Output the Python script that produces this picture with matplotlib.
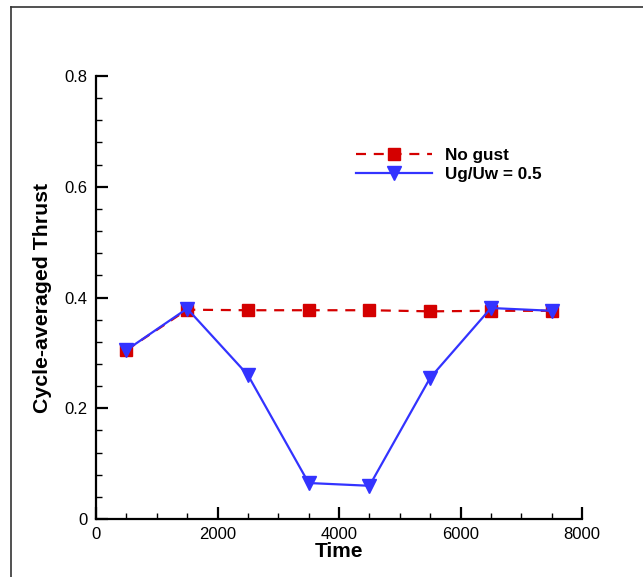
import matplotlib.pyplot as plt
import numpy as np
from matplotlib.lines import Line2D
from matplotlib.ticker import MultipleLocator, FuncFormatter

plt.rcParams['font.family'] = ['Liberation Sans', 'DejaVu Sans']

# cycle-averaged thrust sampled every 1000 time units
time = [500, 1500, 2500, 3500, 4500, 5500, 6500, 7500]
thrust_no_gust = [0.305, 0.378, 0.377, 0.377, 0.377, 0.375, 0.376, 0.376]
thrust_gust = [0.305, 0.380, 0.260, 0.065, 0.060, 0.255, 0.381, 0.376]

fig = plt.figure(figsize=(6.43, 5.77), dpi=100)
ax = fig.add_axes([0.1493, 0.1005, 0.756, 0.7678])

ax.plot(time, thrust_no_gust, color='#d40000', ls=(0, (4.5, 3.5)), lw=1.6,
        marker='s', ms=9, mec='#d40000', label='No gust', clip_on=False)
ax.plot(time, thrust_gust, color='#3333ff', ls='-', lw=1.6,
        marker='v', ms=10, mec='#3333ff', label='Ug/Uw = 0.5', clip_on=False)

ax.set_xlim(0, 8000)
ax.set_ylim(0, 0.8)
ax.xaxis.set_major_locator(MultipleLocator(2000))
ax.xaxis.set_minor_locator(MultipleLocator(500))
ax.yaxis.set_major_locator(MultipleLocator(0.2))
ax.yaxis.set_minor_locator(MultipleLocator(0.04))
ax.yaxis.set_major_formatter(FuncFormatter(lambda v, p: '%g' % round(v, 2)))

for s in ['top', 'right']:
    ax.spines[s].set_visible(False)
for s in ['left', 'bottom']:
    ax.spines[s].set_linewidth(1.6)

ax.tick_params(which='major', direction='in', length=8.5, width=1.6, labelsize=12, pad=6)
ax.tick_params(which='minor', direction='in', length=4.6, width=1.0)

ax.set_xlabel('Time', fontsize=15, fontweight='bold', labelpad=0)
ax.set_ylabel('Cycle-averaged Thrust', fontsize=15.3, fontweight='bold', labelpad=9)

leg = ax.legend(loc='upper left', bbox_to_anchor=(347 / 643, 1 - 139 / 577),
                bbox_transform=fig.transFigure, frameon=False, fontsize=12.3,
                handlelength=4.5, handletextpad=0.75, labelspacing=0.27,
                borderpad=0, numpoints=1)
for t in leg.get_texts():
    t.set_fontweight('bold')

# page frame lines
fig.add_artist(Line2D([10.5 / 643, 1], [1 - 7 / 577, 1 - 7 / 577],
                      transform=fig.transFigure, color='#333333', lw=1.2))
fig.add_artist(Line2D([10.5 / 643, 10.5 / 643], [0, 1 - 7 / 577],
                      transform=fig.transFigure, color='#333333', lw=1.2))

fig.savefig('out.png', dpi=100)
